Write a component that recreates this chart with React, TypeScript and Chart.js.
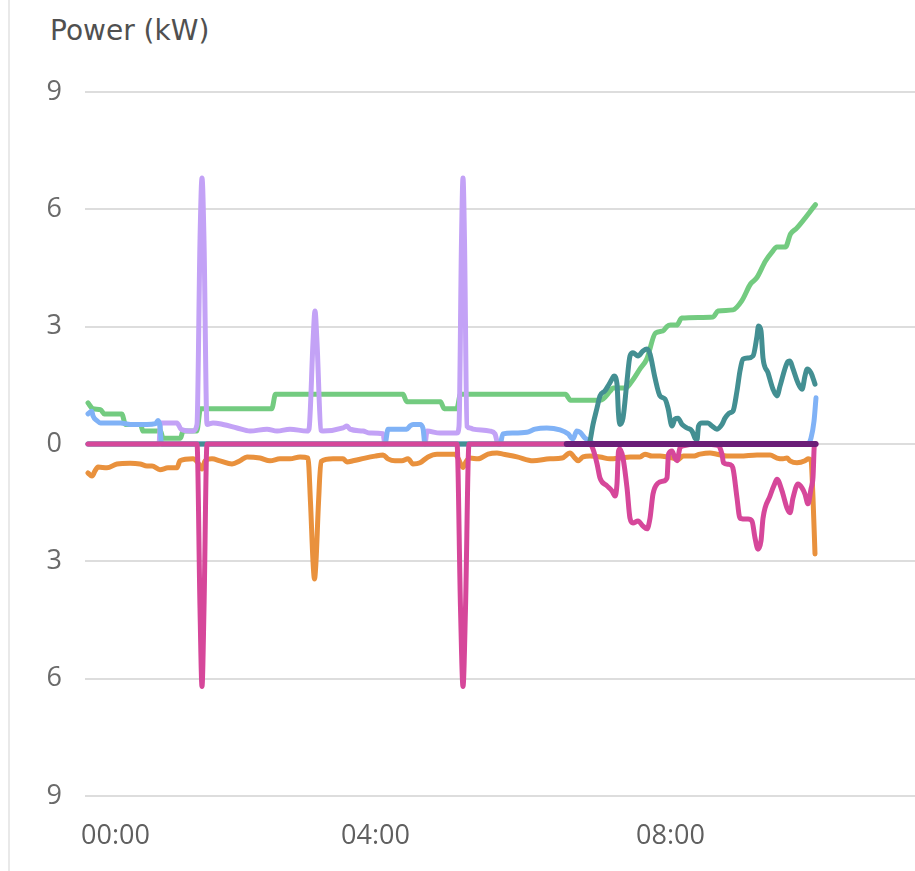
import React, { useEffect, useRef } from 'react';
import Chart from 'chart.js/auto';

// x values are minutes from the first sample
const xTickMinutes = [22, 230, 466];
const xTickLabels = ['00:00', '04:00', '08:00'];
const yTicks = [-9, -6, -3, 0, 3, 6, 9];

const greenT = [0, 4, 10, 13, 27, 30, 42, 44, 58, 60, 74, 76, 87, 90, 147, 150, 252, 255, 282, 285, 295, 298, 382, 386, 410, 418, 420, 430, 435, 442, 447, 454, 460, 463, 466, 471, 475, 500, 504, 516, 523, 530, 535, 542, 548, 551, 558, 562, 567, 582];
const greenV = [1.05, 0.9, 0.88, 0.77, 0.77, 0.5, 0.5, 0.33, 0.33, 0.15, 0.15, 0.33, 0.33, 0.9, 0.9, 1.27, 1.27, 1.08, 1.08, 0.9, 0.9, 1.27, 1.27, 1.12, 1.12, 1.36, 1.43, 1.43, 1.6, 1.94, 2.17, 2.84, 2.89, 3.0, 3.04, 3.04, 3.22, 3.25, 3.4, 3.43, 3.66, 4.09, 4.25, 4.68, 4.94, 5.04, 5.04, 5.37, 5.52, 6.12];

const blueT = [0, 3, 4, 7, 10, 26, 34, 47, 54, 56, 57.6, 58.8, 237.6, 240, 255, 257.6, 260, 265.6, 268, 269.6, 329.6, 332, 340, 351, 357.6, 367, 377.6, 384, 388, 391, 393.6, 397.6, 401.6, 404.8, 576, 578.4, 580.8, 582.4];
const blueV = [0.77, 0.84, 0.72, 0.6, 0.54, 0.54, 0.5, 0.5, 0.52, 0.6, 0.45, 0, 0, 0.38, 0.38, 0.46, 0.5, 0.5, 0.4, 0, 0, 0.26, 0.28, 0.3, 0.38, 0.41, 0.36, 0.26, 0.13, 0.33, 0.3, 0.15, 0.08, 0, 0, 0.15, 0.58, 1.18];

const lavT = [0, 56.8, 58, 71.2, 74.4, 84, 87.2, 89.6, 91.2, 92.8, 95.2, 100, 108, 119.2, 129.6, 143.2, 151.2, 161.6, 175.2, 176.8, 180, 181.6, 183.2, 186.4, 188, 204, 207.2, 209.6, 220, 225.6, 236, 237.6, 269.6, 271.2, 281.6, 295.2, 296.8, 298.8, 300, 301.2, 303.2, 305.6, 308, 321.6, 325.6, 328, 582.4];
const lavV = [0, 0, 0.54, 0.54, 0.38, 0.33, 0.5, 5.2, 6.8, 5.2, 0.5, 0.54, 0.5, 0.41, 0.33, 0.38, 0.33, 0.38, 0.33, 0.38, 2.6, 3.4, 2.6, 0.35, 0.33, 0.41, 0.46, 0.38, 0.33, 0.28, 0.26, 0, 0, 0.33, 0.28, 0.28, 0.45, 5.2, 6.8, 5.2, 0.45, 0.41, 0.38, 0.33, 0.26, 0, 0];

const magT = [0, 87.2, 89.6, 91.2, 92.8, 95.2, 295.2, 298, 300, 302, 304.8, 401.6, 404, 407.2, 409.6, 415.2, 419.2, 421.6, 423.2, 424.4, 425.6, 428, 431.2, 433.6, 436, 440, 444, 447.2, 449.6, 452, 456, 460, 463.2, 464.4, 467.2, 469.6, 471.2, 473.6, 476, 487.2, 504, 507.2, 508.4, 512, 515.2, 516.4, 519.2, 521.6, 528, 531.2, 533.6, 536, 538.4, 540, 545.6, 549.6, 551.2, 555.2, 559.2, 561.6, 564, 568, 571.2, 573.6, 576, 578.4, 580, 581.2, 582.4];
const magV = [0, 0, -4.2, -6.2, -4.2, 0, 0, -4.2, -6.2, -4.2, 0, 0, -0.13, -0.5, -0.87, -1.07, -1.2, -1.33, -1.02, -0.18, -0.13, -0.36, -1.12, -1.9, -2.02, -1.97, -2.1, -2.17, -1.9, -1.28, -1.0, -0.95, -0.87, -0.26, -0.18, -0.36, -0.43, -0.1, -0.05, 0, -0.03, -0.26, -0.48, -0.52, -0.56, -0.69, -1.38, -1.9, -1.92, -1.97, -2.4, -2.69, -2.48, -1.9, -1.33, -1.0, -0.9, -1.2, -1.64, -1.76, -1.38, -1.02, -1.12, -1.28, -1.53, -1.15, -0.85, 0, 0];

const tealT = [0, 400.8, 401.6, 404, 407.2, 409.6, 413.6, 416, 419.2, 420.8, 423.2, 424.4, 425.6, 428, 431.2, 433.6, 436, 440, 444, 447.2, 449.6, 453.6, 457.6, 461.6, 464, 467.2, 469.6, 472, 475.2, 479.2, 483.2, 485.6, 487.2, 488.4, 491.2, 496, 499.2, 503.2, 507.2, 509.6, 513.6, 516, 519.2, 521.6, 524, 528, 532, 535.2, 536.4, 538.4, 540, 544, 548, 551.2, 553.6, 559.2, 561.6, 564, 568, 571.2, 573.6, 575.2, 578.4, 581.6];
const tealV = [0, 0, 0.08, 0.5, 0.92, 1.23, 1.36, 1.48, 1.66, 1.74, 1.53, 0.77, 0.5, 0.66, 1.61, 2.25, 2.33, 2.25, 2.38, 2.43, 2.3, 1.69, 1.23, 1.15, 0.92, 0.46, 0.64, 0.66, 0.5, 0.41, 0.33, 0.15, 0.1, 0.46, 0.54, 0.54, 0.46, 0.38, 0.5, 0.66, 0.8, 0.84, 1.36, 1.87, 2.17, 2.2, 2.25, 2.76, 3.02, 2.89, 2.2, 1.82, 1.4, 1.23, 1.48, 2.07, 2.12, 1.92, 1.56, 1.4, 1.74, 1.92, 1.82, 1.53];

const orT = [0, 3.2, 5.6, 8, 15.2, 23.2, 33.6, 41.6, 47.2, 51.2, 57.6, 64, 71.2, 73.6, 84, 88, 91.2, 93.6, 99.2, 105.6, 115.2, 121.6, 127.2, 137.6, 145.6, 153.6, 161.6, 169.6, 176, 178, 180, 181.2, 182.4, 184.4, 186.4, 196, 204, 207.2, 212, 221.6, 229.6, 236, 240, 245.6, 251.2, 256, 260, 265.6, 272, 279.2, 293.6, 296, 300, 302.4, 305.6, 312, 320, 327.2, 332, 343.2, 356, 369.6, 379.2, 385.6, 389.6, 392, 396, 401.6, 409.6, 417.6, 425.6, 433.6, 441.6, 445.6, 451.2, 457.6, 463.2, 468, 472, 476, 484, 489.6, 497.6, 503.2, 511.2, 521.6, 535.2, 545.6, 551.2, 556, 559.2, 561.6, 567.2, 573.6, 576, 578.4, 580, 581.6];
const orV = [-0.74, -0.82, -0.69, -0.59, -0.61, -0.51, -0.49, -0.51, -0.56, -0.56, -0.66, -0.61, -0.61, -0.43, -0.38, -0.48, -0.64, -0.43, -0.38, -0.43, -0.51, -0.43, -0.33, -0.36, -0.43, -0.38, -0.38, -0.33, -0.36, -1.5, -3.0, -3.45, -3.0, -1.5, -0.45, -0.38, -0.38, -0.46, -0.43, -0.36, -0.31, -0.28, -0.38, -0.43, -0.43, -0.38, -0.51, -0.48, -0.33, -0.26, -0.26, -0.36, -0.6, -0.45, -0.36, -0.38, -0.26, -0.23, -0.26, -0.33, -0.43, -0.38, -0.36, -0.23, -0.36, -0.43, -0.33, -0.31, -0.33, -0.38, -0.36, -0.33, -0.33, -0.26, -0.31, -0.31, -0.33, -0.36, -0.4, -0.31, -0.31, -0.26, -0.23, -0.26, -0.31, -0.31, -0.28, -0.28, -0.36, -0.38, -0.36, -0.43, -0.48, -0.43, -0.38, -0.43, -1.38, -2.81];

const purpleT = [383, 582];
const purpleV = [0, 0];

const pts = (t: number[], v: number[]) => t.map((x, i) => ({ x, y: v[i] }));

const line = (data: { x: number; y: number }[], color: string, order: number, width = 5) => ({
    data,
    borderColor: color,
    borderWidth: width,
    pointRadius: 0,
    fill: false,
    cubicInterpolationMode: 'monotone' as const,
    borderJoinStyle: 'round' as const,
    borderCapStyle: 'round' as const,
    order,
});

const PowerChart = () => {
    const chartRef = useRef<HTMLCanvasElement>(null);

    useEffect(() => {
        if (!chartRef?.current) return;
        const ctx = chartRef.current.getContext('2d');
        if (!ctx) return;
        const tickFont = { family: '"Open Sans", sans-serif', size: 27 };
        const myChart = new Chart(ctx, {
            type: 'line',
            data: {
                datasets: [
                    line(pts(purpleT, purpleV), '#6b1e78', 0, 6),
                    line(pts(magT, magV), '#d6479a', 1),
                    line(pts(orT, orV), '#e9913d', 2),
                    line(pts(tealT, tealV), '#438f92', 3),
                    line(pts(blueT, blueV), '#80b2f6', 4),
                    line(pts(lavT, lavV), '#c3a2f6', 5),
                    line(pts(greenT, greenV), '#73cb80', 6),
                ]
            },
            options: {
                animation: false,
                responsive: true,
                maintainAspectRatio: false,
                layout: { padding: { top: 92, left: 0, right: 0, bottom: 0 } },
                plugins: {
                    legend: { display: false },
                    tooltip: { enabled: false },
                },
                scales: {
                    x: {
                        type: 'linear',
                        min: -2.4,
                        max: 661.6,
                        grid: { display: false, drawTicks: false },
                        border: { display: false },
                        afterBuildTicks: (s: any) => {
                            s.ticks = xTickMinutes.map(v => ({ value: v }));
                        },
                        afterFit: (s: any) => { s.height = 75; },
                        ticks: {
                            autoSkip: false,
                            maxRotation: 0,
                            padding: 24,
                            color: '#5f5f5f',
                            font: tickFont,
                            callback: (v: any) => xTickLabels[xTickMinutes.indexOf(Number(v))] ?? '',
                        }
                    },
                    y: {
                        min: -9,
                        max: 9,
                        grid: { color: '#dddddd', lineWidth: 2, drawTicks: false },
                        border: { display: false },
                        afterBuildTicks: (s: any) => {
                            s.ticks = yTicks.map(v => ({ value: v }));
                        },
                        afterFit: (s: any) => { s.width = 85; },
                        ticks: {
                            padding: 23,
                            color: '#6a6a6a',
                            font: tickFont,
                            callback: (v: any) => String(Math.abs(Number(v))),
                        }
                    }
                }
            }
        });

        return () => {
            myChart.destroy();
        };
    }, []);

    return (
        <div style={{ position: 'fixed', left: 0, top: 0, width: 915, height: 871, background: '#fff' }}>
            <div style={{ position: 'absolute', left: 8, top: 0, width: 2, height: 871, background: '#e9e9e9' }} />
            <div style={{ position: 'absolute', left: 50, top: 14, font: '28px "DejaVu Sans", sans-serif', color: '#505050', whiteSpace: 'nowrap' }}>
                Power (kW)
            </div>
            <div style={{ position: 'absolute', left: 0, top: 0, width: 915, height: 871 }}>
                <canvas ref={chartRef} />
            </div>
        </div>
    );
};

export default function App() {
    return <PowerChart />;
}
